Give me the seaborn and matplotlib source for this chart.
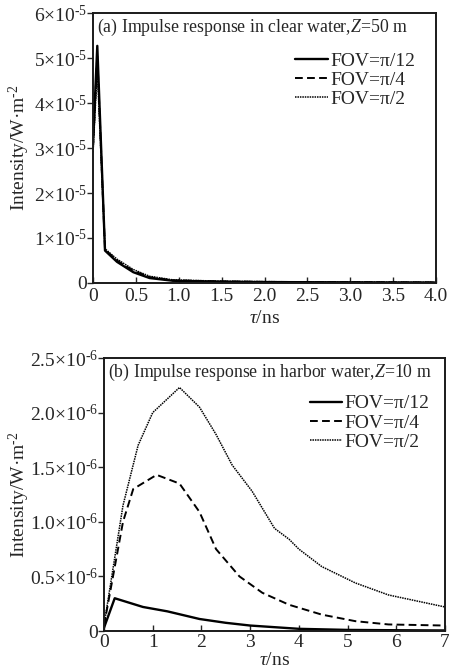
import numpy as np
import pandas as pd
import matplotlib
matplotlib.use("Agg")
import matplotlib.pyplot as plt
import seaborn as sns

# ---------------- data ----------------
fov_labels = ["FOV=π/12", "FOV=π/4", "FOV=π/2"]

# panel (a): clear water, Z=50 m  (intensity in 1e-5 W/m^2)
a_tau_12 = [0.0, 0.05, 0.14, 0.28, 0.47, 0.66, 0.93, 1.5, 2.0, 3.0, 4.0]
a_int_12 = [3.1, 5.27, 0.72, 0.47, 0.24, 0.11, 0.05, 0.03, 0.02, 0.015, 0.01]
a_tau_4 = [0.0, 0.05, 0.14, 0.28, 0.47, 0.66, 0.93, 1.5, 2.0, 3.0, 4.0]
a_int_4 = [3.0, 5.05, 0.74, 0.50, 0.27, 0.13, 0.06, 0.035, 0.025, 0.018, 0.012]
a_tau_2 = [0.0, 0.05, 0.14, 0.28, 0.47, 0.66, 0.93, 1.5, 2.0, 3.0, 4.0]
a_int_2 = [2.9, 4.75, 0.76, 0.53, 0.30, 0.15, 0.07, 0.04, 0.03, 0.02, 0.015]

# panel (b): harbor water, Z=10 m  (intensity in 1e-6 W/m^2)
b_tau_12 = [0.0, 0.22, 0.8, 1.3, 1.96, 2.5, 3.0, 4.0, 5.0, 6.0, 7.0]
b_int_12 = [0.03, 0.30, 0.22, 0.18, 0.11, 0.075, 0.05, 0.02, 0.01, 0.007, 0.005]
b_tau_4 = [0.0, 0.39, 0.6, 1.08, 1.55, 1.96, 2.3, 2.78, 3.25, 3.8, 4.47, 5.16, 5.84, 7.0]
b_int_4 = [0.05, 1.0, 1.3, 1.43, 1.35, 1.09, 0.75, 0.50, 0.35, 0.24, 0.15, 0.09, 0.06, 0.05]
b_tau_2 = [0.0, 0.39, 0.7, 1.0, 1.55, 1.96, 2.3, 2.63, 3.04, 3.5, 3.8, 4.0, 4.47, 5.16, 5.84, 7.0]
b_int_2 = [0.05, 1.15, 1.7, 2.0, 2.23, 2.05, 1.8, 1.52, 1.28, 0.94, 0.84, 0.75, 0.59, 0.44, 0.33, 0.22]

a_yticks = [0, 1, 2, 3, 4, 5, 6]
a_ylabels = ["0"] + [f"{v}×10$^{{\\text{{-5}}}}$" for v in a_yticks[1:]]
a_xticks = [0, 0.5, 1.0, 1.5, 2.0, 2.5, 3.0, 3.5, 4.0]
a_xlabels = ["0", "0.5", "1.0", "1.5", "2.0", "2.5", "3.0", "3.5", "4.0"]
b_yticks = [0, 0.5, 1.0, 1.5, 2.0, 2.5]
b_ylabels = ["0"] + [f"{v:.1f}×10$^{{\\text{{-6}}}}$" for v in b_yticks[1:]]
b_xticks = [0, 1, 2, 3, 4, 5, 6, 7]
b_xlabels = [str(v) for v in b_xticks]

# ---------------- style ----------------
sns.set_style("ticks")
plt.rcParams["font.family"] = ["Liberation Serif", "DejaVu Serif"]
plt.rcParams["mathtext.fontset"] = "custom"
plt.rcParams["mathtext.rm"] = "Liberation Serif"
plt.rcParams["mathtext.it"] = "Liberation Serif:italic"
plt.rcParams["axes.linewidth"] = 1.4
plt.rcParams["axes.edgecolor"] = "#1a1a1a"

FS = 14
FS_T = 12.8
styles = {"FOV=π/12": (None, 1.7), "FOV=π/4": ((4, 2.2), 1.4), "FOV=π/2": ((1, 0.6), 1.1)}


def make_df(taus, ints, scale):
    frames = []
    for lab, t, v in zip(fov_labels, taus, ints):
        frames.append(pd.DataFrame({"tau": t, "I": np.array(v) * scale, "FOV": lab}))
    return pd.concat(frames, ignore_index=True)


fig = plt.figure(figsize=(4.49, 6.72), dpi=100)
ax_a = fig.add_axes([93 / 449, (672 - 283) / 672, 343 / 449, 270 / 672])
ax_b = fig.add_axes([104 / 449, (672 - 631) / 672, 341 / 449, 273 / 672])

df_a = make_df([a_tau_12, a_tau_4, a_tau_2], [a_int_12, a_int_4, a_int_2], 1e-5)
df_b = make_df([b_tau_12, b_tau_4, b_tau_2], [b_int_12, b_int_4, b_int_2], 1e-6)

for ax, df in [(ax_a, df_a), (ax_b, df_b)]:
    for lab in fov_labels:
        sub = df[df["FOV"] == lab]
        dash, lw = styles[lab]
        sns.lineplot(data=sub, x="tau", y="I", ax=ax, color="black", lw=lw,
                     label=lab, sort=False, estimator=None)
        line = ax.get_lines()[-1]
        if dash is not None:
            line.set_dashes(dash)

# axes (a)
ax_a.set_xlim(0, 4.0)
ax_a.set_ylim(0, 6e-5)
ax_a.set_yticks([v * 1e-5 for v in a_yticks])
ax_a.set_yticklabels(a_ylabels)
ax_a.set_xticks(a_xticks)
ax_a.set_xticklabels(a_xlabels)
ax_a.text(0.012, 0.985, "(a) Impulse response in clear water,$\\mathit{Z}$=50 m",
          transform=ax_a.transAxes, ha="left", va="top", fontsize=FS_T)

# axes (b)
ax_b.set_xlim(0, 7)
ax_b.set_ylim(0, 2.5e-6)
ax_b.set_yticks([v * 1e-6 for v in b_yticks])
ax_b.set_yticklabels(b_ylabels)
ax_b.set_xticks(b_xticks)
ax_b.set_xticklabels(b_xlabels)
ax_b.text(0.012, 0.985, "(b) Impulse response in harbor water,$\\mathit{Z}$=10 m",
          transform=ax_b.transAxes, ha="left", va="top", fontsize=FS_T)

legend_anchor = {0: (0.94, 0.855), 1: (0.955, 0.865)}
x_pad = {0: (3.5, 4), 1: (2.5, 0.5)}
for i, ax in enumerate((ax_a, ax_b)):
    for s in ax.spines.values():
        s.set_visible(True)
    ax.tick_params(axis="x", direction="in", length=4, width=1.0, labelsize=FS, pad=x_pad[i][0])
    ax.tick_params(axis="y", direction="out", length=4, width=1.0, labelsize=FS, pad=0)
    ax.set_xlabel("$\\mathit{τ}$/ns", fontsize=FS, labelpad=x_pad[i][1])
    ax.set_ylabel("Intensity/W·m$^{\\text{-2}}$", fontsize=FS)
    ax.legend(loc="upper right", bbox_to_anchor=legend_anchor[i], frameon=False,
              fontsize=FS, handlelength=1.65, handletextpad=0.15, labelspacing=0.08,
              borderaxespad=0, borderpad=0)

ax_a.yaxis.set_label_coords(-0.178, 0.5)
ax_b.yaxis.set_label_coords(-0.21, 0.5)

fig.savefig("out.png", dpi=100)
